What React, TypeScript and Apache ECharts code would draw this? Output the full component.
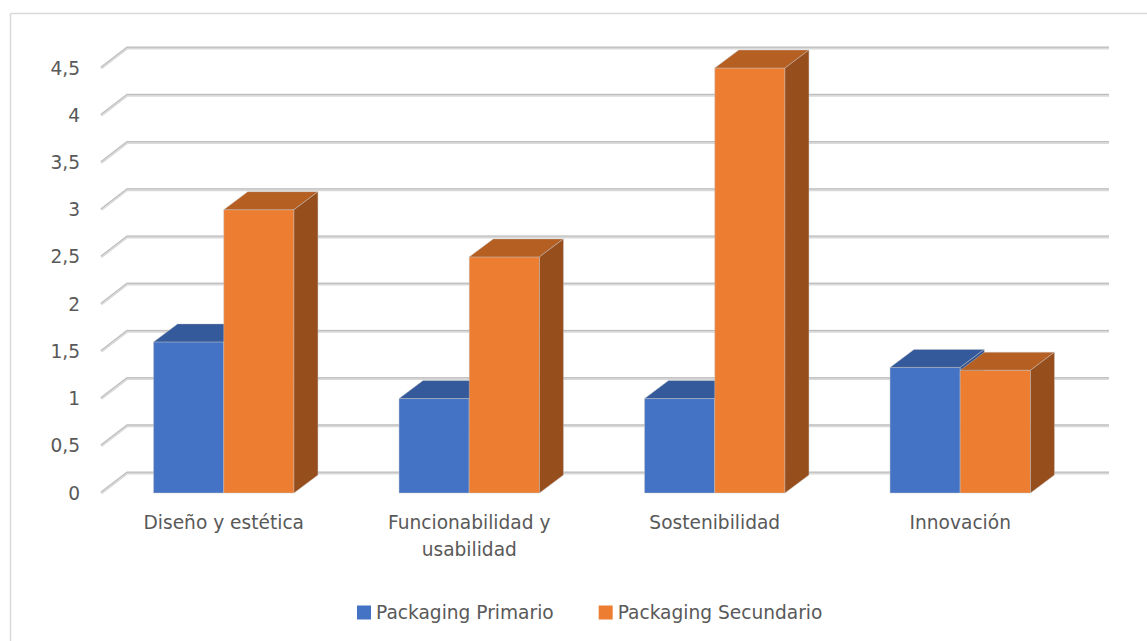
import React, { useEffect, useRef } from "react";
import * as echarts from "echarts";

const categories = ["Diseño y estética", "Funcionabilidad y\nusabilidad", "Sostenibilidad", "Innovación"];
const seriesNames = ["Packaging Primario", "Packaging Secundario"];
const primario = [1.6, 1.0, 1.0, 1.33];
const secundario = [3.0, 2.5, 4.5, 1.3];
const yTicks = [0, 0.5, 1, 1.5, 2, 2.5, 3, 3.5, 4, 4.5];

const GRID_DX = 26;
const GRID_DY = -20;
const BAR_DX = 24;
const BAR_DY = -18;
const FONT = "'DejaVu Sans', sans-serif";
const FS = 18.6;
const TXT = "#595959";

const palette = [
  { front: "#4472C4", top: "#345A9B", side: "#2E5190" },
  { front: "#ED7D31", top: "#B55F23", side: "#974E1D" },
];

function barRenderer(sideIdx: number) {
  const c = palette[sideIdx];
  return (params: any, api: any) => {
    const idx = api.value(0);
    const val = api.value(1);
    const base = api.coord([idx, 0]);
    const top = api.coord([idx, val]);
    const catW = api.size([1, 0])[0];
    const w = catW * 0.286;
    const x0 = sideIdx === 0 ? base[0] - w : base[0];
    const x1 = x0 + w;
    const yb = base[1];
    const yt = top[1];
    const edge = { stroke: "rgba(200,200,200,0.55)", lineWidth: 0.8 };
    return {
      type: "group",
      children: [
        {
          type: "polygon",
          shape: { points: [[x0, yt], [x1, yt], [x1, yb], [x0, yb]] },
          style: { fill: c.front, ...edge },
        },
        {
          type: "polygon",
          shape: { points: [[x0, yt], [x0 + BAR_DX, yt + BAR_DY], [x1 + BAR_DX, yt + BAR_DY], [x1, yt]] },
          style: { fill: c.top, ...edge },
        },
        {
          type: "polygon",
          shape: { points: [[x1, yt], [x1 + BAR_DX, yt + BAR_DY], [x1 + BAR_DX, yb + BAR_DY], [x1, yb]] },
          style: { fill: c.side, ...edge },
        },
      ],
    };
  };
}

function gridRenderer(params: any, api: any) {
  const v = api.value(1);
  const p = api.coord([0, v]);
  const cs = params.coordSys;
  const left = cs.x;
  const right = cs.x + cs.width;
  const y = p[1];
  const by = y + GRID_DY;
  return {
    type: "group",
    children: [
      {
        type: "polyline",
        shape: { points: [[left, y], [left + GRID_DX, by], [right + GRID_DX, by]] },
        style: { stroke: "#d9d9d9", lineWidth: 3, fill: "none" },
      },
      {
        type: "polyline",
        shape: { points: [[left, y - 0.8], [left + GRID_DX, by - 0.8], [right + GRID_DX, by - 0.8]] },
        style: { stroke: "#bcbcbc", lineWidth: 1, fill: "none" },
      },
    ],
  };
}

export default function App() {
  const ref = useRef<HTMLDivElement>(null);
  useEffect(() => {
    if (!ref.current) return;
    const chart = echarts.init(ref.current, undefined, { renderer: "svg" });
    chart.setOption({
      animation: false,
      backgroundColor: "#ffffff",
      textStyle: { fontFamily: FONT },
      grid: { left: 101, right: 64, top: 68, bottom: 148, containLabel: false },
      graphic: [
        { type: "line", shape: { x1: 10.5, y1: 13.5, x2: 1147, y2: 13.5 }, style: { stroke: "#d9d9d9", lineWidth: 1.5 } },
        { type: "line", shape: { x1: 10.5, y1: 13.5, x2: 10.5, y2: 641 }, style: { stroke: "#d9d9d9", lineWidth: 1.5 } },
      ],
      legend: {
        left: 352,
        top: 598,
        itemWidth: 14,
        itemHeight: 14,
        itemGap: 45,
        icon: "rect",
        data: seriesNames,
        textStyle: { color: TXT, fontSize: FS, fontFamily: FONT },
      },
      xAxis: {
        type: "category",
        data: categories,
        axisLine: { show: false },
        axisTick: { show: false },
        splitLine: { show: false },
        axisLabel: { color: TXT, fontSize: FS, lineHeight: 27, margin: 16, fontFamily: FONT, interval: 0 },
      },
      yAxis: {
        type: "value",
        min: 0,
        max: 4.5,
        interval: 0.5,
        axisLine: { show: false },
        axisTick: { show: false },
        splitLine: { show: false },
        axisLabel: {
          color: TXT,
          fontSize: FS,
          margin: 21,
          fontFamily: FONT,
          formatter: (v: number) => String(v).replace(".", ","),
        },
      },
      series: [
        {
          type: "custom",
          name: "grid3d",
          z: 1,
          silent: true,
          renderItem: gridRenderer,
          data: yTicks.map((v) => [0, v]),
          encode: { x: 0, y: 1 },
        },
        {
          type: "custom",
          name: seriesNames[0],
          z: 2,
          itemStyle: { color: palette[0].front },
          renderItem: barRenderer(0),
          data: primario.map((v, i) => [i, v]),
          encode: { x: 0, y: 1 },
        },
        {
          type: "custom",
          name: seriesNames[1],
          z: 3,
          itemStyle: { color: palette[1].front },
          renderItem: barRenderer(1),
          data: secundario.map((v, i) => [i, v]),
          encode: { x: 0, y: 1 },
        },
      ],
    });
    return () => chart.dispose();
  }, []);
  return (
    <div
      ref={ref}
      style={{ position: "fixed", left: 0, top: 0, width: 1147, height: 641, background: "#fff" }}
    />
  );
}
